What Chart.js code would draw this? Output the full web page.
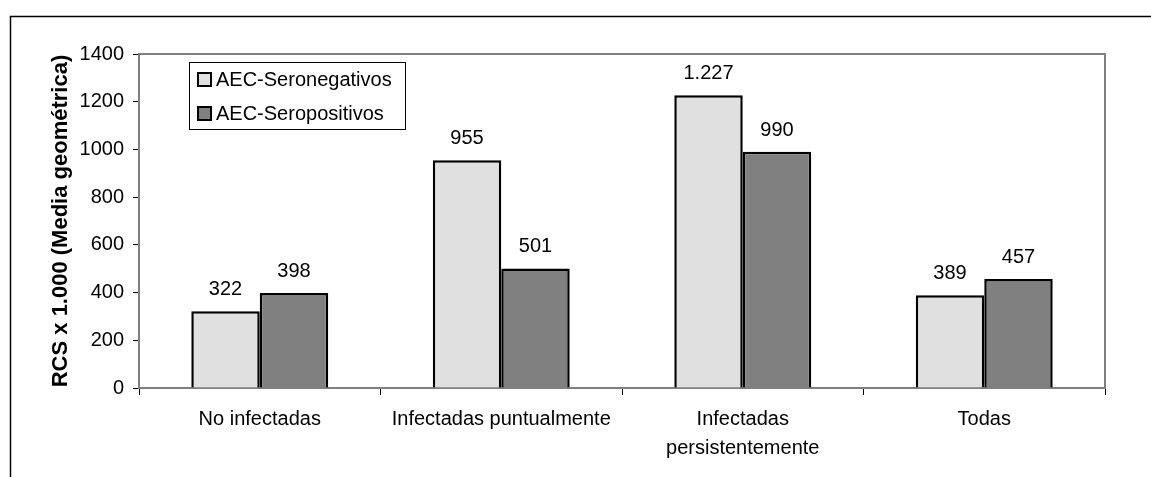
<!DOCTYPE html>
<html>
<head>
<meta charset="utf-8">
<script src="https://cdn.jsdelivr.net/npm/chart.js@4"></script>
<style>
  html, body { margin: 0; padding: 0; background: #fff; }
  #wrap { width: 1151px; height: 477px; }
</style>
</head>
<body>
<div id="wrap"><canvas id="grafico" width="1151" height="477"></canvas></div>
<script>
// datos
var categorias = ['No infectadas', 'Infectadas puntualmente', ['Infectadas', 'persistentemente'], 'Todas'];
var seronegativos = [322, 955, 1227, 389];
var seropositivos = [398, 501, 990, 457];
var series = ['AEC-Seronegativos', 'AEC-Seropositivos'];
var colores = ['#e0e0e0', '#808080'];
var yTicks = [0, 200, 400, 600, 800, 1000, 1200, 1400];

// 1227 -> "1.227"
function formato(v) {
    return String(v).replace(/\B(?=(\d{3})+(?!\d))/g, '.');
}

var marco = {
    id: 'marco',
    beforeDraw: function (chart) {
        var ctx = chart.ctx;
        ctx.save();
        ctx.strokeStyle = '#000';
        ctx.lineWidth = 1.5;
        ctx.beginPath();
        ctx.moveTo(10.5, 477);
        ctx.lineTo(10.5, 16.5);
        ctx.lineTo(1151, 16.5);
        ctx.stroke();
        ctx.restore();
    },
    afterDraw: function (chart) {
        var a = chart.chartArea, ctx = chart.ctx;
        ctx.save();
        ctx.strokeStyle = '#808080';
        ctx.lineWidth = 2;
        ctx.beginPath();
        ctx.moveTo(a.left, a.top);
        ctx.lineTo(a.right, a.top);
        ctx.lineTo(a.right, a.bottom);
        ctx.stroke();
        ctx.restore();
    }
};

var etiquetas = {
    id: 'etiquetas',
    afterDatasetsDraw: function (chart) {
        var ctx = chart.ctx;
        ctx.save();
        ctx.font = '20px "Liberation Sans", Arial, sans-serif';
        ctx.fillStyle = '#000';
        ctx.textAlign = 'center';
        ctx.textBaseline = 'alphabetic';
        chart.data.datasets.forEach(function (ds, i) {
            chart.getDatasetMeta(i).data.forEach(function (bar, j) {
                ctx.fillText(formato(ds.data[j]), bar.x, bar.y - 16);
            });
        });
        ctx.restore();
    }
};

var leyenda = {
    id: 'leyenda',
    afterDraw: function (chart) {
        var ctx = chart.ctx;
        ctx.save();
        ctx.fillStyle = '#fff';
        ctx.fillRect(189, 62, 216, 67);
        ctx.strokeStyle = '#000';
        ctx.lineWidth = 1;
        ctx.strokeRect(189.5, 62.5, 216, 67);
        ctx.font = '20px "Liberation Sans", Arial, sans-serif';
        ctx.textBaseline = 'middle';
        chart.data.datasets.forEach(function (ds, i) {
            var y = 79 + i * 34;
            ctx.fillStyle = ds.backgroundColor;
            ctx.fillRect(198, y - 6, 13, 13);
            ctx.lineWidth = 2;
            ctx.strokeStyle = '#000';
            ctx.strokeRect(198, y - 6, 13, 13);
            ctx.fillStyle = '#000';
            ctx.fillText(ds.label, 216, y + 1);
        });
        ctx.restore();
    }
};

new Chart(document.getElementById('grafico'), {
    type: 'bar',
    data: {
        labels: categorias,
        datasets: [{
            label: series[0],
            data: seronegativos,
            backgroundColor: colores[0],
            borderColor: '#000',
            borderWidth: 2.5
        }, {
            label: series[1],
            data: seropositivos,
            backgroundColor: colores[1],
            borderColor: '#000',
            borderWidth: 2.5
        }]
    },
    options: {
        responsive: false,
        animation: false,
        categoryPercentage: 0.567,
        barPercentage: 1.0,
        layout: { padding: { left: 0, top: 54, right: 46, bottom: 0 } },
        plugins: {
            legend: { display: false },
            tooltip: { enabled: false }
        },
        scales: {
            x: {
                grid: { display: true, drawOnChartArea: false, offset: true, tickLength: 7, color: '#000', lineWidth: 1 },
                border: { color: '#808080', width: 2 },
                ticks: {
                    color: '#000',
                    padding: 10,
                    maxRotation: 0,
                    font: { family: '"Liberation Sans", Arial, sans-serif', size: 20, lineHeight: 1.45 }
                },
                afterFit: function (s) { s.height = 89; }
            },
            y: {
                min: 0,
                max: 1400,
                afterBuildTicks: function (s) { s.ticks = yTicks.map(function (v) { return { value: v }; }); },
                grid: { display: true, drawOnChartArea: false, tickLength: 6, color: '#000', lineWidth: 1 },
                border: { color: '#808080', width: 2 },
                ticks: {
                    color: '#000',
                    padding: 9,
                    callback: function (v) { return String(v); },
                    font: { family: '"Liberation Sans", Arial, sans-serif', size: 20 }
                },
                title: {
                    display: true,
                    text: 'RCS x 1.000 (Media geométrica)',
                    color: '#000',
                    padding: { top: 48, bottom: 0 },
                    font: { family: '"Liberation Sans", Arial, sans-serif', size: 22, weight: 'bold' }
                },
                afterFit: function (s) { s.width = 139; }
            }
        }
    },
    plugins: [marco, etiquetas, leyenda]
});
</script>
</body>
</html>
